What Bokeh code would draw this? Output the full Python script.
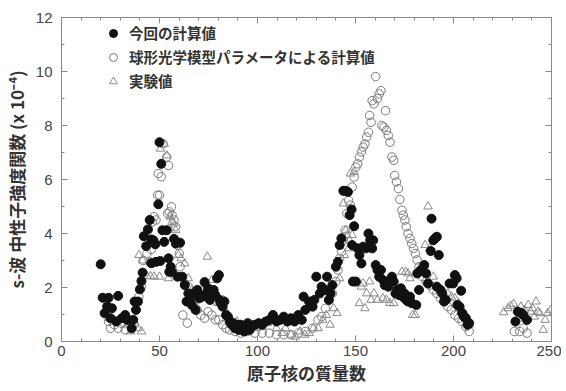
from bokeh.plotting import figure
from bokeh.models import LinearAxis, Legend, LegendItem, Range1d, FixedTicker
from bokeh.embed import file_html
from bokeh.resources import INLINE

# 今回の計算値 (filled circles)
calc_x = [20, 21, 24, 22, 23.3, 25.7, 28.9, 25, 28, 30.7, 32.5, 33.5, 35.8, 36.6, 38, 39, 37.3,
          40, 40.8, 41.4, 42, 43.2, 44.1, 45, 45.8, 45.8, 46.9, 47.8, 48.2, 49.4, 50, 50.9, 50.4,
          51.5, 52.4, 53.7, 54.6, 55, 55.7, 56.4, 57.4, 58.3, 59.2, 60.5, 61.6, 62.9, 63.8, 64.7,
          65.6, 66.5, 67.5, 68.4, 69.3, 70.2, 72, 73, 73.9, 74.8, 75.7, 76.7, 77.6, 78.5, 79.4,
          80.3, 80.7, 81.3, 82.2, 83.1, 84, 84.9, 85.8, 86.8, 87.7, 88.6, 89.5, 90.4, 91.4, 92.3,
          93.2, 94.1, 95, 96, 96.9, 98.7, 100.6, 102.4, 104.2, 106, 107.9, 109.7, 111.6, 113.4,
          115.3, 117.1, 118.9, 120.8, 122.6, 123.5, 124.4, 126.3, 128.1, 129, 130, 131.8, 132.7,
          134.6, 135.5, 136.4, 137.3, 138.2, 140, 141, 141.9, 142.8, 143.8, 145, 146.1, 147, 148,
          148.3, 148.7, 150.2, 149.3, 151.1, 152, 153, 153.9, 155.3, 156.6, 157.5, 158.5, 159,
          160.3, 161.2, 162.1, 163, 164, 164.9, 165.8, 166.7, 168.6, 169.5, 170.4, 171.3, 172.2,
          173.2, 174.1, 175, 175.9, 176.8, 177.8, 178.7, 181, 182.4, 181.5, 183.3, 185.1, 186,
          187, 188.4, 188.8, 189.7, 190.6, 191.5, 192.5, 191.5, 193.4, 194.3, 195.2, 196.1, 198,
          199.8, 200.7, 201.6, 202, 203.1, 203.9, 204.4, 205.3, 206.3, 207.2, 208, 231.6, 232.9,
          234.7, 237.5, 235.6]
calc_y = [2.86, 1.62, 1.62, 1.05, 1.3, 1.23, 1.69, 0.86, 0.74, 0.86, 0.98, 0.8, 0.49, 0.8, 1.17,
          1.48, 1.48, 1.93, 2.24, 2.55, 3.9, 3.53, 4.15, 4.5, 3.78, 2.9, 3.75, 3.6, 2.95, 5.08,
          7.38, 6.58, 2.98, 4.12, 3.69, 4.12, 3.08, 2.58, 2.77, 2.58, 3.8, 3.63, 2.4, 3.66, 2.4,
          2.09, 1.48, 1.78, 1.48, 1.35, 1.78, 1.17, 1.91, 1.6, 1.66, 2.2, 1.78, 1.97, 1.54, 1.78,
          1.91, 1.72, 2.34, 2.46, 1.54, 1.42, 1.29, 1.48, 0.98, 0.92, 0.74, 0.62, 0.68, 0.49, 0.62,
          0.43, 0.62, 0.49, 0.37, 0.49, 0.68, 0.43, 0.55, 0.62, 0.68, 0.62, 0.74, 0.8, 0.98, 0.74,
          0.8, 0.92, 0.74, 0.86, 0.74, 0.98, 0.8, 1.66, 1.17, 1.48, 1.29, 1.54, 2.4, 1.78, 2.03,
          1.91, 2.4, 1.54, 1.78, 2.09, 2.77, 2.95, 3.57, 3.82, 5.58, 5.58, 5.54, 4.68, 4.89, 3.57,
          2.22, 2.22, 4.27, 3.45, 3.2, 2.89, 3.51, 3.45, 4.0, 3.75, 3.45, 3.75, 2.83, 2.65, 2.4,
          2.65, 2.28, 2.09, 2.22, 2.03, 2.4, 2.22, 1.78, 1.91, 1.72, 1.97, 1.66, 1.78, 1.54, 1.48,
          1.66, 1.42, 1.35, 1.91, 2.52, 2.65, 2.83, 2.52, 2.15, 3.35, 4.55, 3.75, 3.82, 3.88, 3.2,
          2.03, 1.91, 1.78, 1.48, 1.54, 2.15, 2.15, 2.46, 2.34, 1.35, 1.29, 1.88, 1.05, 0.92, 0.86,
          0.62, 0.68, 0.74, 1.1, 1.05, 0.8, 0.98]

# 球形光学模型パラメータによる計算値 (open circles)
sph_x = [24, 25, 27, 28.9, 30.7, 32.5, 34.4, 37.1, 39.5, 40.8, 41.7, 43.6, 45, 45.8, 46.3, 47.2,
         48.2, 49, 50, 49.4, 50.9, 51.8, 53.7, 54.6, 55, 56.1, 56.4, 54.2, 57.4, 58.3, 59.2, 60.1,
         60.5, 61.9, 64.2, 62.9, 64.7, 65.6, 67.5, 69.3, 71.1, 73, 74.8, 76.7, 78.5, 80.3, 82.2,
         84, 85.8, 88.6, 91.4, 95, 98.7, 102.4, 106, 109.7, 113.4, 117.1, 120.8, 124.4, 128.1,
         130.9, 132.7, 134.6, 136.4, 138.2, 140, 141, 141.9, 142.8, 143.8, 144.7, 145.6, 146.5,
         147.4, 148.3, 149.3, 150.2, 151.1, 152, 153, 153.9, 154.8, 155.7, 156.6, 157.2, 157.9,
         158.5, 159.4, 160.3, 161.2, 162.1, 163, 163.4, 164.5, 165.3, 165.8, 166.7, 167.6, 168.6,
         169.5, 170, 170.9, 171.9, 172.6, 173.7, 174.4, 175.2, 175.9, 176.8, 177.8, 178.7, 179.6,
         180.5, 181.4, 182.4, 184.2, 186, 187.9, 189.7, 191.5, 193.4, 195.2, 197.1, 198.9, 200.7,
         202.6, 204.4, 206.3, 208, 231, 233.8, 237.5, 235.6]
sph_y = [0.74, 0.49, 0.62, 0.49, 0.68, 0.43, 0.8, 0.62, 1.66, 2.03, 3.0, 3.26, 2.95, 3.41, 4.43,
         4.62, 4.5, 5.42, 5.42, 6.22, 6.1, 7.32, 6.83, 6.52, 4.8, 4.99, 4.68, 4.74, 4.5, 4.25,
         3.57, 3.26, 2.77, 0.98, 0.68, 2.15, 2.03, 1.78, 1.42, 1.17, 0.98, 0.86, 1.1, 0.98, 0.8,
         0.8, 0.62, 0.49, 0.43, 0.37, 0.31, 0.37, 0.31, 0.31, 0.31, 0.25, 0.25, 0.25, 0.31, 0.37,
         0.49, 0.8, 0.92, 1.23, 1.54, 1.78, 2.22, 2.65, 3.08, 3.32, 3.75, 4.12, 4.74, 5.23, 5.05,
         5.72, 6.09, 6.46, 6.58, 6.83, 7.02, 7.2, 7.32, 7.57, 7.75, 8.37, 8.12, 8.92, 8.8, 9.81,
         9.0, 9.17, 9.29, 8.0, 7.94, 8.55, 7.82, 7.63, 7.38, 6.83, 6.71, 6.15, 5.91, 5.66, 5.26,
         4.86, 4.68, 4.5, 4.25, 4.0, 3.82, 3.63, 3.45, 3.26, 3.02, 2.77, 2.4, 2.22, 2.09, 1.91,
         1.78, 1.6, 1.48, 1.29, 1.17, 0.98, 0.86, 0.74, 0.55, 0.37, 0.37, 0.37, 0.31, 0.49]

# 実験値 (triangles)
exp_x = [24, 27, 29.8, 33.5, 35.3, 39, 40.8, 39.5, 41.4, 43.6, 45.4, 47.2, 50, 50.5, 52.4, 53.7,
         54.6, 55.5, 56.4, 57.4, 58.3, 59.7, 61, 62.9, 64.7, 66.5, 68.4, 70.8, 72.1, 74.4, 76.7,
         78.5, 80, 82.6, 84, 86.8, 89.5, 91.4, 94.6, 96.9, 99.6, 102.4, 105.1, 107.5, 109.7,
         112.5, 114.3, 117.1, 119.3, 121.7, 124.1, 126.3, 128.5, 130.9, 133.3, 135.1, 137, 138.8,
         140.6, 141.9, 143.2, 144.3, 143.8, 145, 145.6, 146.5, 147, 147.4, 148.3, 149.3, 150.2,
         152, 153, 153.9, 154.8, 155.7, 157.2, 157.9, 159.4, 161.2, 164, 165.8, 167.6, 169.5,
         171.3, 173.7, 175.5, 176.8, 177.8, 179.2, 180.5, 187, 185.5, 187.9, 189.7, 191.5, 193.4,
         195.2, 197.1, 198.9, 200.7, 202.6, 204.4, 206.3, 208, 225.6, 227.8, 229.2, 230.7, 232.5,
         234.4, 236.2, 238.1, 239.4, 240.3, 242.1, 243.1, 244, 245.8, 246.8, 248.1, 249.6, 236.6,
         241.2]
exp_y = [0.86, 0.8, 0.8, 0.62, 0.37, 0.49, 0.37, 3.2, 3.0, 2.42, 2.42, 2.4, 2.4, 7.14, 7.32, 6.89,
         2.34, 4.62, 4.43, 4.37, 4.12, 3.2, 3.08, 2.89, 2.34, 1.91, 1.78, 1.78, 1.91, 3.14, 2.28,
         1.48, 1.42, 1.54, 1.1, 0.8, 0.74, 0.43, 0.49, 0.62, 0.49, 0.55, 0.68, 0.98, 0.49, 0.31,
         0.49, 0.25, 0.18, 0.37, 0.25, 0.31, 0.49, 0.49, 0.8, 0.98, 0.62, 1.23, 1.05, 2.34, 3.82,
         3.2, 5.11, 4.12, 3.94, 3.45, 3.75, 6.22, 3.94, 6.28, 3.45, 1.42, 2.03, 2.15, 1.23, 1.78,
         2.22, 1.54, 1.78, 1.54, 1.6, 1.54, 1.42, 1.42, 1.72, 2.58, 2.58, 2.52, 2.34, 0.98, 0.98,
         5.0, 3.57, 3.45, 2.4, 2.03, 1.85, 1.66, 1.78, 1.66, 1.6, 1.42, 1.17, 0.98, 0.62, 1.08,
         1.23, 1.32, 1.39, 1.17, 1.29, 1.17, 1.35, 1.1, 1.23, 1.48, 1.1, 1.05, 0.43, 0.8, 1.05,
         1.17, 0.86, 0.92]

x_ticks = [0, 50, 100, 150, 200, 250]
y_ticks = [0, 2, 4, 6, 8, 10, 12]

NUM_FONT = "Liberation Sans"
JP_FONT = "Noto Sans CJK JP"
GRAY = "#8a8a8a"

p = figure(width=561, height=387, output_backend="svg", toolbar_location=None,
           x_range=Range1d(0, 250), y_range=Range1d(0, 12),
           min_border_left=59, min_border_right=10, min_border_top=17, min_border_bottom=45)
p.xgrid.visible = False
p.ygrid.visible = False
p.outline_line_color = GRAY
p.background_fill_color = "white"
p.border_fill_color = "white"

r_sph = p.scatter(sph_x, sph_y, marker="circle", size=8.5, fill_color=None,
                  line_color="#7a7a7a", line_width=1)
r_exp = p.scatter(exp_x, exp_y, marker="triangle", size=8.5, fill_color=None,
                  line_color="#8a8a8a", line_width=1)
r_calc = p.scatter(calc_x, calc_y, marker="circle", size=9, fill_color="#111111",
                   line_color="#111111")


def style_axis(ax, labels=True):
    ax.axis_line_color = GRAY
    ax.major_tick_line_color = GRAY
    ax.minor_tick_line_color = GRAY
    ax.major_tick_in = 6
    ax.major_tick_out = 0
    ax.minor_tick_in = 3
    ax.minor_tick_out = 0
    ax.major_label_text_font = NUM_FONT
    ax.major_label_text_font_size = "15px"
    ax.major_label_text_color = "#444444"
    if not labels:
        ax.major_label_text_font_size = "0px"
        ax.major_label_text_color = None


xax = p.xaxis[0]
yax = p.yaxis[0]
xax.ticker = FixedTicker(ticks=x_ticks, minor_ticks=list(range(0, 251, 10)))
yax.ticker = FixedTicker(ticks=y_ticks, minor_ticks=list(range(0, 13, 1)))
style_axis(xax)
style_axis(yax)
xax.major_label_standoff = 4
yax.major_label_standoff = 9
xax.axis_label = "原子核の質量数"
yax.axis_label = "s-波 中性子強度関数 (x 10⁻⁴)"
for ax in (xax, yax):
    ax.axis_label_text_font = JP_FONT
    ax.axis_label_text_font_size = "17px"
    ax.axis_label_text_font_style = "bold"
    ax.axis_label_text_color = "#333333"
xax.axis_label_standoff = 1
yax.axis_label_standoff = 4

top = LinearAxis(ticker=FixedTicker(ticks=x_ticks, minor_ticks=list(range(0, 251, 10))))
right = LinearAxis(ticker=FixedTicker(ticks=y_ticks, minor_ticks=list(range(0, 13, 1))))
style_axis(top, labels=False)
style_axis(right, labels=False)
top.major_label_standoff = 0
right.major_label_standoff = 0
p.add_layout(top, "above")
p.add_layout(right, "right")

legend = Legend(items=[
    LegendItem(label="今回の計算値", renderers=[r_calc]),
    LegendItem(label="球形光学模型パラメータによる計算値", renderers=[r_sph]),
    LegendItem(label="実験値", renderers=[r_exp]),
], location=(42, 250))
legend.border_line_color = None
legend.background_fill_alpha = 0
legend.padding = 5
legend.margin = 0
legend.spacing = 3
legend.label_height = 20
legend.glyph_height = 20
legend.glyph_width = 20
legend.label_standoff = 6
legend.label_text_font = JP_FONT
legend.label_text_font_size = "14.5px"
legend.label_text_font_style = "bold"
legend.label_text_color = "#333333"
p.add_layout(legend, "center")

open("out.html", "w").write(file_html(p, INLINE))
